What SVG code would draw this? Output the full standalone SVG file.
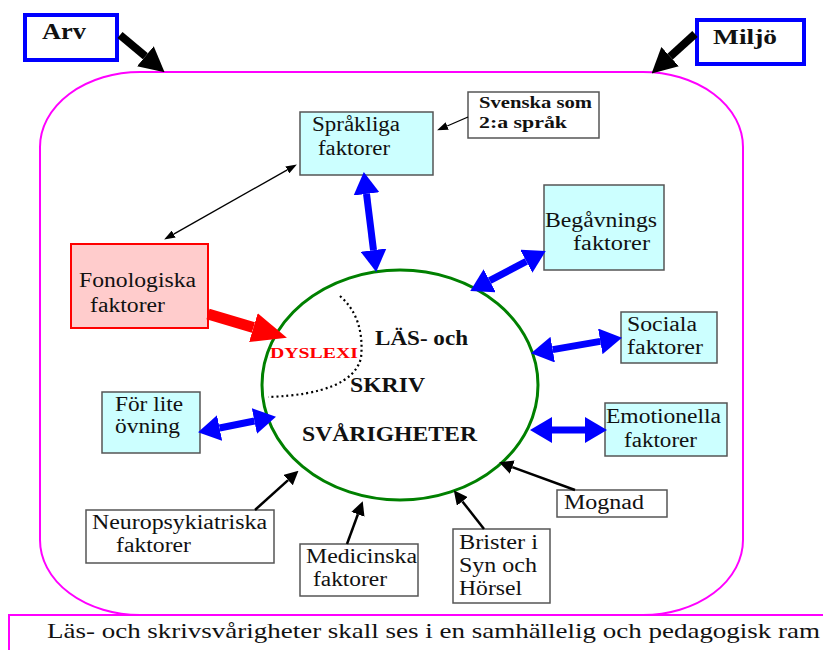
<svg xmlns="http://www.w3.org/2000/svg" width="823" height="650" viewBox="0 0 823 650" font-family="'Liberation Serif', 'DejaVu Serif', serif">
<style>
text{font-family:'Liberation Serif','DejaVu Serif',serif;fill:#111;}
.t{font-size:20px;}
.b{font-weight:bold;}
.cy{fill:#ccffff;stroke:#555;stroke-width:1.5;}
.wb{fill:#fff;stroke:#555;stroke-width:1.5;}
.blue{stroke:#0000ff;stroke-width:7;fill:none;marker-start:url(#bh);marker-end:url(#bh);}
.blk{stroke:#000;stroke-width:2.5;fill:none;marker-end:url(#kh);}
</style>
<defs>
<marker id="bh" viewBox="0 -13 22 26" markerUnits="userSpaceOnUse" markerWidth="22" markerHeight="26" refX="0" refY="0" orient="auto-start-reverse"><path d="M0,-13 L22,0 L0,13 z" fill="#0000ff"/></marker>
<marker id="kh" viewBox="0 -7 14 14" markerUnits="userSpaceOnUse" markerWidth="14" markerHeight="14" refX="0" refY="0" orient="auto-start-reverse"><path d="M0,-7 L14,0 L0,7 z" fill="#000"/></marker>
<marker id="th" viewBox="0 -4 11 8" markerUnits="userSpaceOnUse" markerWidth="11" markerHeight="8" refX="0" refY="0" orient="auto-start-reverse"><path d="M0,-4 L11,0 L0,4 z" fill="#000"/></marker>
<marker id="bk" viewBox="0 -13 25 26" markerUnits="userSpaceOnUse" markerWidth="25" markerHeight="26" refX="0" refY="0" orient="auto"><path d="M0,-13 L25,0 L0,13 z" fill="#000"/></marker>
<marker id="rh" viewBox="0 -15 35 30" markerUnits="userSpaceOnUse" markerWidth="35" markerHeight="30" refX="0" refY="0" orient="auto"><path d="M0,-15 L35,0 L0,15 z" fill="#ff0000"/></marker>
</defs>
<rect width="823" height="650" fill="#fff"/>
<path id="frame" d="M140,72 H643 A100,75 0 0 1 743,147 V540 A100,75 0 0 1 643,615 H140 A100,75 0 0 1 40,540 V147 A100,75 0 0 1 140,72 Z" fill="none" stroke="#ff00ff" stroke-width="2"/>
<g id="footer"><rect x="9" y="615" width="830" height="60" fill="#fff" stroke="#ff00ff" stroke-width="2"/>
<text x="47" y="638" font-size="22" textLength="773" lengthAdjust="spacingAndGlyphs">Läs- och skrivsvårigheter skall ses i en samhällelig och pedagogisk ram</text></g>
<g id="arv"><rect x="25" y="15" width="92" height="45" fill="#fff" stroke="#0000ff" stroke-width="4"/><text x="42" y="39" font-size="23" class="b" textLength="44" lengthAdjust="spacingAndGlyphs">Arv</text></g>
<g id="miljo"><rect x="697" y="20" width="107" height="44" fill="#fff" stroke="#0000ff" stroke-width="4"/><text x="713" y="44" font-size="22" class="b" textLength="64" lengthAdjust="spacingAndGlyphs">Miljö</text></g>
<g id="center"><ellipse cx="400" cy="385" rx="138" ry="115" fill="none" stroke="#008000" stroke-width="3"/>
<path d="M340,296 Q365,318 361,358 Q352,394 268,397" fill="none" stroke="#000" stroke-width="2.2" stroke-dasharray="2,3"/>
<text x="270" y="358" font-size="15" class="b" style="fill:#ff0000" textLength="88" lengthAdjust="spacingAndGlyphs">DYSLEXI</text>
<text x="375" y="345" class="t b" textLength="93" lengthAdjust="spacingAndGlyphs">LÄS- och</text>
<text x="350" y="392" class="t b" textLength="75" lengthAdjust="spacingAndGlyphs">SKRIV</text>
<text x="302" y="441" class="t b" textLength="175" lengthAdjust="spacingAndGlyphs">SVÅRIGHETER</text></g>
<g id="sprakliga"><rect x="300" y="112" width="133" height="63" class="cy"/><text x="312" y="131" class="t" textLength="88" lengthAdjust="spacingAndGlyphs">Språkliga</text><text x="318" y="155" class="t" textLength="72" lengthAdjust="spacingAndGlyphs">faktorer</text></g>
<g id="svenska"><rect x="468" y="92" width="131" height="46" class="wb"/><text x="479" y="108" font-size="16" class="b" textLength="113" lengthAdjust="spacingAndGlyphs">Svenska som</text><text x="479" y="128" font-size="16" class="b" textLength="88" lengthAdjust="spacingAndGlyphs">2:a  språk</text></g>
<g id="fonologiska"><rect x="71" y="244" width="137" height="84" fill="#ffcccc" stroke="#ff0000" stroke-width="2"/><text x="79" y="287" class="t" textLength="117" lengthAdjust="spacingAndGlyphs">Fonologiska</text><text x="90" y="312" class="t" textLength="75" lengthAdjust="spacingAndGlyphs">faktorer</text></g>
<g id="begavnings"><rect x="544" y="185" width="120" height="85" class="cy"/><text x="545" y="227" class="t" textLength="112" lengthAdjust="spacingAndGlyphs">Begåvnings</text><text x="573" y="250" class="t" textLength="77" lengthAdjust="spacingAndGlyphs">faktorer</text></g>
<g id="sociala"><rect x="621" y="312" width="96" height="51" class="cy"/><text x="627" y="331" class="t" textLength="70" lengthAdjust="spacingAndGlyphs">Sociala</text><text x="627" y="354" class="t" textLength="76" lengthAdjust="spacingAndGlyphs">faktorer</text></g>
<g id="emotionella"><rect x="605" y="403" width="122" height="53" class="cy"/><text x="606" y="423" class="t" textLength="115" lengthAdjust="spacingAndGlyphs">Emotionella</text><text x="624" y="447" class="t" textLength="73" lengthAdjust="spacingAndGlyphs">faktorer</text></g>
<g id="forlite"><rect x="102" y="392" width="98" height="61" class="cy"/><text x="115" y="411" class="t" textLength="68" lengthAdjust="spacingAndGlyphs">För lite</text><text x="115" y="433" class="t" textLength="65" lengthAdjust="spacingAndGlyphs">övning</text></g>
<g id="neuro"><rect x="86" y="510" width="188" height="53" class="wb"/><text x="92" y="529" class="t" textLength="175" lengthAdjust="spacingAndGlyphs">Neuropsykiatriska</text><text x="116" y="552" class="t" textLength="75" lengthAdjust="spacingAndGlyphs">faktorer</text></g>
<g id="medicinska"><rect x="300" y="544" width="118" height="52" class="wb"/><text x="306" y="563" class="t" textLength="111" lengthAdjust="spacingAndGlyphs">Medicinska</text><text x="313" y="586" class="t" textLength="74" lengthAdjust="spacingAndGlyphs">faktorer</text></g>
<g id="brister"><rect x="453" y="529" width="97" height="74" class="wb"/><text x="459" y="549" class="t" textLength="79" lengthAdjust="spacingAndGlyphs">Brister i</text><text x="459" y="572" class="t" textLength="78" lengthAdjust="spacingAndGlyphs">Syn och</text><text x="459" y="595" class="t" textLength="63" lengthAdjust="spacingAndGlyphs">Hörsel</text></g>
<g id="mognad"><rect x="557" y="490" width="110" height="27" class="wb"/><text x="564" y="509" class="t" textLength="80" lengthAdjust="spacingAndGlyphs">Mognad</text></g>
<g id="connectors">
<line x1="120" y1="35" x2="145.4" y2="56.2" stroke="#000" stroke-width="8" marker-end="url(#bk)"/>
<line x1="695" y1="34" x2="670.1" y2="56.6" stroke="#000" stroke-width="8" marker-end="url(#bk)"/>
<line x1="468" y1="117" x2="447.2" y2="126" stroke="#000" stroke-width="1.3" marker-end="url(#th)"/>
<line x1="287.3" y1="169.9" x2="173.7" y2="234.1" stroke="#000" stroke-width="1.3" marker-start="url(#th)" marker-end="url(#th)"/>
<line x1="208" y1="314" x2="253.4" y2="327.6" stroke="#ff0000" stroke-width="11" marker-end="url(#rh)"/>
<line class="blue" x1="366.5" y1="193.9" x2="373.5" y2="250.1"/>
<line class="blue" x1="489.7" y1="280.7" x2="526.3" y2="261.3"/>
<line class="blue" x1="552.7" y1="349.6" x2="600.3" y2="341.4"/>
<line class="blue" x1="552" y1="430" x2="585" y2="430"/>
<line class="blue" x1="219.6" y1="428" x2="254.4" y2="421"/>
<line class="blk" x1="255" y1="510" x2="288.1" y2="480.1"/>
<line class="blk" x1="347" y1="544" x2="357.9" y2="514.3"/>
<line class="blk" x1="484" y1="529" x2="462.4" y2="501.4"/>
<line class="blk" x1="575" y1="490" x2="512.3" y2="467.1"/>
</g>
</svg>
